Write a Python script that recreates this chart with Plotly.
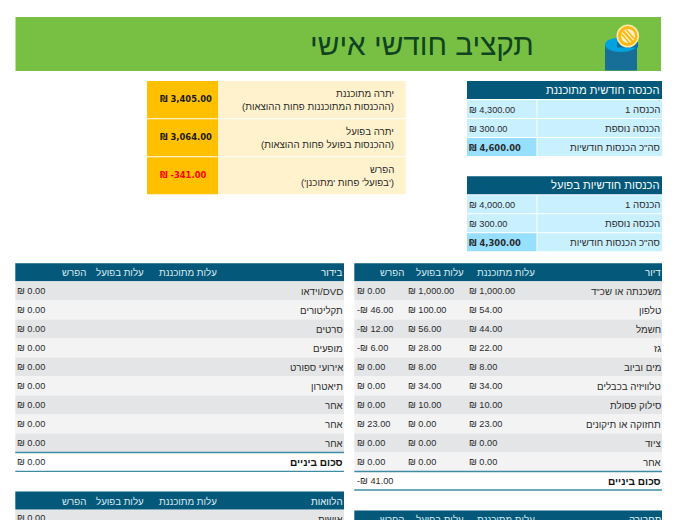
import plotly.graph_objects as go

TITLE = "תקציב חודשי אישי"

PLANNED_INCOME_TITLE = "הכנסה חודשית מתוכננת"
ACTUAL_INCOME_TITLE = "הכנסות חודשיות בפועל"
INCOME_LABELS = ["הכנסה 1", "הכנסה נוספת", 'סה"כ הכנסות חודשיות']
PLANNED_INCOME = ["₪ 4,300.00", "₪ 300.00", "₪ 4,600.00"]
ACTUAL_INCOME = ["₪ 4,000.00", "₪ 300.00", "₪ 4,300.00"]

SUMMARY_LABELS = [
    ["יתרה מתוכננת", "(ההכנסות המתוכננות פחות ההוצאות)"],
    ["יתרה בפועל", "(ההכנסות בפועל פחות ההוצאות)"],
    ["הפרש", "('בפועל' פחות 'מתוכנן')"],
]
SUMMARY_VALUES = ["₪ 3,405.00", "₪ 3,064.00", "₪ -341.00"]

COL_HEADERS = ["עלות מתוכננת", "עלות בפועל", "הפרש"]
SUBTOTAL = "סכום ביניים"

HOUSING_TITLE = "דיור"
HOUSING_ITEMS = ['משכנתה או שכ"ד', "טלפון", "חשמל", "גז", "מים וביוב",
                 "טלוויזיה בכבלים", "סילוק פסולת", "תחזוקה או תיקונים", "ציוד", "אחר"]
HOUSING_PLAN = ["1,000.00", "54.00", "44.00", "22.00", "8.00", "34.00", "10.00", "23.00", "0.00", "0.00"]
HOUSING_ACT = ["1,000.00", "100.00", "56.00", "28.00", "8.00", "34.00", "10.00", "0.00", "0.00", "0.00"]
HOUSING_DIFF = ["₪ 0.00", "-₪ 46.00", "-₪ 12.00", "-₪ 6.00", "₪ 0.00", "₪ 0.00", "₪ 0.00", "₪ 23.00", "₪ 0.00", "₪ 0.00"]
HOUSING_SUB = "-₪ 41.00"

FUN_TITLE = "בידור"
FUN_ITEMS = ["וידאו/DVD", "תקליטורים", "סרטים", "מופעים", "אירועי ספורט", "תיאטרון", "אחר", "אחר", "אחר"]
FUN_DIFF = ["₪ 0.00"] * 9
FUN_SUB = "₪ 0.00"

LOAN_TITLE = "הלוואות"
LOAN_ITEM = "אישית"
LOAN_DIFF = "₪ 0.00"
TRANSPORT_TITLE = "תחבורה"

HEB = "Liberation Sans"
NUM = "Liberation Sans"
NUMB = "DejaVu Sans"
LAB = 9.7
VAL = 9.2
TEAL = "#04597b"
INK = "#2b2b2b"

shapes, ann = [], []

def rect(x0, y0, x1, y1, c):
    shapes.append(dict(type="rect", x0=x0, x1=x1, y0=y0, y1=y1, fillcolor=c, line_width=0, layer="below"))

def line(x0, x1, y, c="#3e8ba5", w=1.3):
    shapes.append(dict(type="line", x0=x0, x1=x1, y0=y, y1=y, line=dict(color=c, width=w)))

def txt(x, y, s, anchor="right", size=LAB, color=INK, font=HEB, bold=False):
    if bold:
        s = "<b>" + s + "</b>"
    if anchor == "right":
        s = "\u200f" + s + "\u200f"
    ann.append(dict(x=x, y=y, text=s, xanchor=anchor, yanchor="middle", showarrow=False,
                    font=dict(size=size, color=color, family=font), xref="x", yref="y",
                    borderpad=0, borderwidth=0))

def val(x, y, s, bold=False, color=INK):
    txt(x, y, s, anchor="left", size=8.4 if bold else VAL, font=NUMB if bold else NUM, bold=bold, color=color)

# banner
rect(15.5, 17, 661, 71, "#78c043")
txt(534, 44.5, TITLE, size=29.7, color="#10431f")
shapes.append(dict(type="rect", x0=605, x1=637, y0=45, y1=70.5, fillcolor="#176f98", line_width=0))
shapes.append(dict(type="circle", x0=605, x1=637, y0=37.5, y1=52, fillcolor="#00a3e0", line_width=0))
shapes.append(dict(type="rect", x0=617, x1=638, y0=42, y1=47.5, fillcolor="#0a6f9e", line_width=0))
shapes.append(dict(type="circle", x0=616.5, x1=639, y0=24.5, y1=47.5, fillcolor="#ffe9a8", line_width=0))
shapes.append(dict(type="circle", x0=618, x1=637.5, y0=26, y1=46, fillcolor="#fdb813", line_width=0))
shapes.append(dict(type="circle", x0=621, x1=635, y0=29, y1=43, fillcolor="#fff2c8", line_width=0))
shapes.append(dict(type="line", x0=623, x1=633, y0=31, y1=42, line=dict(color="#fdb813", width=2.2)))
shapes.append(dict(type="line", x0=626, x1=634.5, y0=29.5, y1=39, line=dict(color="#fdb813", width=1.4)))
shapes.append(dict(type="line", x0=621.5, x1=630, y0=34, y1=43.5, line=dict(color="#fdb813", width=1.4)))

# income tables
def income(y0, title, values):
    rect(467, y0, 662, y0 + 18, TEAL)
    txt(660, y0 + 9, title, size=11.2, color="#f4fbfd")
    ys = [y0 + 19, y0 + 38, y0 + 57]
    for i, (label, v) in enumerate(zip(INCOME_LABELS, values)):
        bold = i == 2
        rect(467, ys[i], 536.5, ys[i] + 18, "#96dfff" if bold else "#c9f0ff")
        rect(537.5, ys[i], 662, ys[i] + 18, "#c9f0ff")
        txt(660, ys[i] + 9.5, label)
        val(469, ys[i] + 9.5, v, bold=bold)

income(81, PLANNED_INCOME_TITLE, PLANNED_INCOME)
income(176.2, ACTUAL_INCOME_TITLE, ACTUAL_INCOME)

# summary
SUM_Y = [(81, 118.3), (119.3, 156.2), (157.3, 194.3)]
for (a, b), lab, v in zip(SUM_Y, SUMMARY_LABELS, SUMMARY_VALUES):
    rect(147, a, 218.2, b, "#ffc000")
    rect(219.2, a, 405.7, b, "#fff2cc")
    m = (a + b) / 2
    txt(393.5, m - 6.5, lab[0])
    txt(393.5, m + 6.5, lab[1])
    red = v.startswith("₪ -")
    val(160, m - 0.5, v, bold=True, color="#ff0000" if red else "#1a1a1a")

# expense tables
def header(x0, x1, y0, title, cols, rights):
    rect(x0, y0, x1, y0 + 18, TEAL)
    txt(x1 - 1, y0 + 9.5, title, color="#e8f3f7")
    for s, r in zip(cols, rights):
        txt(r, y0 + 9.5, s, color="#d9eaf0")

def rows(x0, x1, y0, items):
    for i, it in enumerate(items):
        y = y0 + 19 * i
        rect(x0, y, x1, y + 19, "#e4e5e6" if i % 2 == 0 else "#f3f3f3")
        txt(x1 - 1, y + 9.5, it)

R0, R1 = 354.3, 662
L0, L1 = 15.3, 344
RH = [535, 464, 404]
LH = [217, 144, 85.7]

header(R0, R1, 263.3, HOUSING_TITLE, COL_HEADERS, RH)
rows(R0, R1, 281.5, HOUSING_ITEMS)
for i in range(len(HOUSING_ITEMS)):
    y = 281.5 + 19 * i + 9.5
    val(469, y, "₪ " + HOUSING_PLAN[i])
    val(407.7, y, "₪ " + HOUSING_ACT[i])
    val(357, y, HOUSING_DIFF[i])
line(R0, R1, 471.5)
line(R0, R1, 490)
txt(R1 - 1, 481, SUBTOTAL, size=10.1, bold=True, color="#111111")
val(357, 481, HOUSING_SUB)

header(L0, L1, 263.3, FUN_TITLE, COL_HEADERS, LH)
rows(L0, L1, 281.5, FUN_ITEMS)
for i, d in enumerate(FUN_DIFF):
    val(17.3, 281.5 + 19 * i + 9.5, d)
line(L0, L1, 452.5)
line(L0, L1, 471.3)
txt(L1 - 1, 462, SUBTOTAL, size=10.1, bold=True, color="#111111")
val(17.3, 462, FUN_SUB)

header(L0, L1, 491.5, LOAN_TITLE, COL_HEADERS, LH)
rows(L0, L1, 510, [LOAN_ITEM])
val(17.3, 518, LOAN_DIFF)

header(R0, R1, 510.4, TRANSPORT_TITLE, COL_HEADERS, RH)

fig = go.Figure()
fig.update_layout(
    width=675, height=520, margin=dict(l=0, r=0, t=0, b=0),
    paper_bgcolor="white", plot_bgcolor="white", showlegend=False,
    xaxis=dict(range=[0, 675], visible=False, fixedrange=True),
    yaxis=dict(range=[520, 0], visible=False, fixedrange=True),
    shapes=shapes, annotations=ann,
)
fig.write_html("out.html", config={"displayModeBar": False},
               post_script="document.body.style.margin='0';document.body.style.overflow='hidden';")
